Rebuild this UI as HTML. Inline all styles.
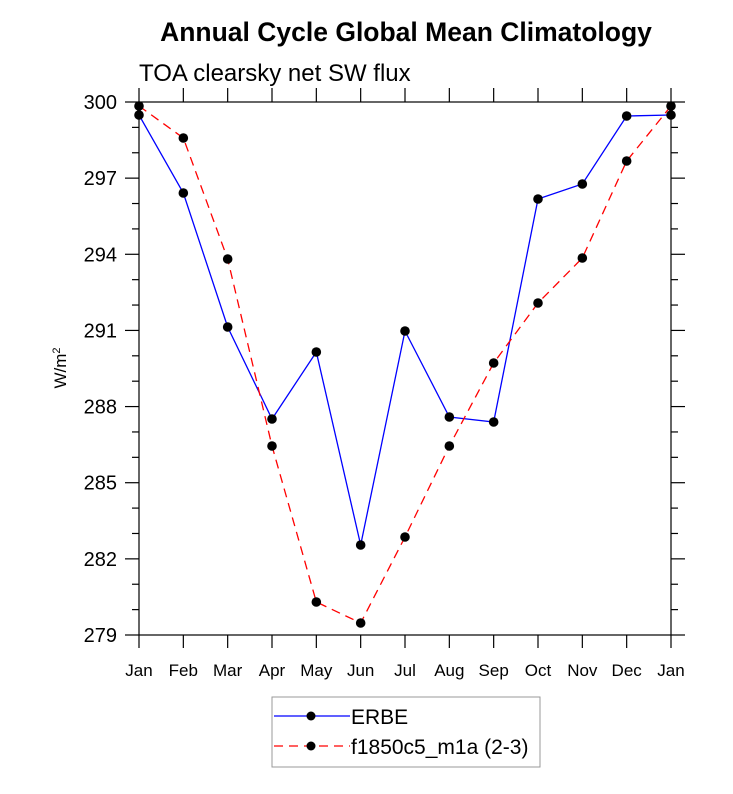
<!DOCTYPE html>
<html><head><style>body{margin:0;background:#fff}</style></head><body>
<svg width="733" height="789" xmlns="http://www.w3.org/2000/svg" font-family="Liberation Sans, Arial, sans-serif">
<rect width="733" height="789" fill="#fff"/>
<text x="406" y="41" font-size="26.5" font-weight="bold" text-anchor="middle">Annual Cycle Global Mean Climatology</text>
<text x="139" y="81" font-size="24">TOA clearsky net SW flux</text>
<text transform="translate(66,368) rotate(-90)" font-size="17" text-anchor="middle">W/m<tspan dy="-6" font-size="11">2</tspan></text>
<rect x="139" y="102" width="532" height="533" fill="none" stroke="#000" stroke-width="1.2"/>
<g id="ticks" stroke="#000" stroke-width="1.2"></g>
<g id="labels"></g>
<g id="series"></g>
<rect x="272" y="697" width="268" height="70" fill="#fff" stroke="#999" stroke-width="1"/>
<line x1="274" y1="716" x2="350" y2="716" stroke="#00f" stroke-width="1.3"/>
<circle cx="311" cy="716" r="4.5"/>
<text x="351" y="724" font-size="21">ERBE</text>
<line x1="274" y1="746" x2="350" y2="746" stroke="#f00" stroke-width="1.3" stroke-dasharray="9,6"/>
<circle cx="311" cy="746" r="4.5"/>
<text x="351" y="754" font-size="21">f1850c5_m1a (2-3)</text>
<script>
var ns="http://www.w3.org/2000/svg",t=document.getElementById("ticks"),l=document.getElementById("labels"),s=document.getElementById("series");
function el(p,n,a){var e=document.createElementNS(ns,n);for(var k in a)e.setAttribute(k,a[k]);p.appendChild(e);return e;}
for(var v=279;v<=300;v++){var y=635-(v-279)*533/21;var maj=(v-279)%3==0;
el(t,"line",{x1:maj?125:132,y1:y,x2:139,y2:y});el(t,"line",{x1:671,y1:y,x2:maj?685:678,y2:y});
if(maj){var tx=el(l,"text",{x:117,y:y+7,"text-anchor":"end","font-size":20});tx.textContent=v;}}
var m=["Jan","Feb","Mar","Apr","May","Jun","Jul","Aug","Sep","Oct","Nov","Dec","Jan"];
for(var i=0;i<13;i++){var x=139+i*532/12;el(t,"line",{x1:x,y1:88,x2:x,y2:102});el(t,"line",{x1:x,y1:635,x2:x,y2:648});
var tx=el(l,"text",{x:x,y:676,"text-anchor":"middle","font-size":17});tx.textContent=m[i];}
var b=[115,193,327,419,352,545,331,417,422,199,184,116,115];
var r=[106,138,259,446,602,623,537,446,363,303,258,161,106];
function pts(a){return a.map(function(y,i){return (139+i*532/12)+","+y}).join(" ");}
el(s,"polyline",{points:pts(b),fill:"none",stroke:"#00f","stroke-width":1.3});
el(s,"polyline",{points:pts(r),fill:"none",stroke:"#f00","stroke-width":1.3,"stroke-dasharray":"9,6"});
[b,r].forEach(function(a){a.forEach(function(y,i){el(s,"circle",{cx:139+i*532/12,cy:y,r:4.8});});});
</script>
</svg>
</body></html>
